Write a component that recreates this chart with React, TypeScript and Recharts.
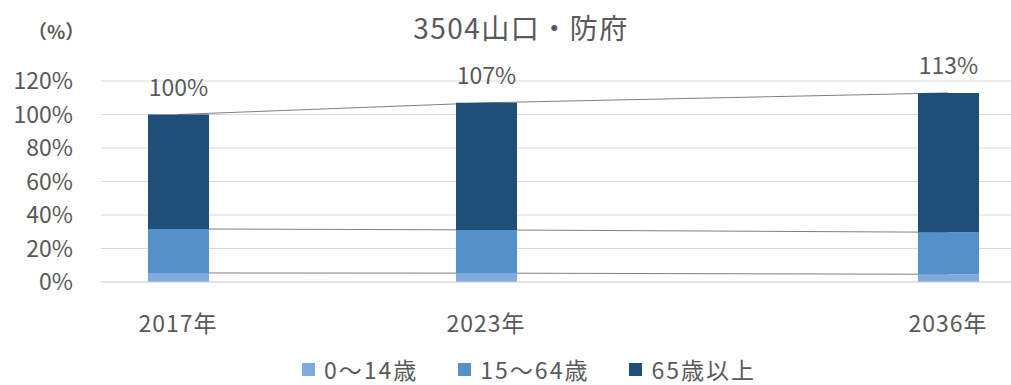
import {
  Bar,
  CartesianGrid,
  ComposedChart,
  LabelList,
  Legend,
  Line,
  XAxis,
  YAxis,
} from "recharts"

const categories = ["2017年", "", "2023年", "", "", "2036年"]
const age0to14 = [5.4, null, 5.3, null, null, 4.6]
const age15to64 = [26.3, null, 25.8, null, null, 25.1]
const age65plus = [68.3, null, 75.9, null, null, 83.2]
const yTicks = [0, 20, 40, 60, 80, 100, 120]

const seriesNames = ["0〜14歳", "15〜64歳", "65歳以上"]
const colors = ["#7eaadc", "#5591c9", "#1f4e79"]

const FONT = '"Noto Sans CJK JP", "Noto Sans", sans-serif'
const TEXT = "#595959"

const data = categories.map((name, i) => {
  const a = age0to14[i]
  const b = age15to64[i]
  const c = age65plus[i]
  const has = a != null && b != null && c != null
  return {
    name,
    a,
    b,
    c,
    lineA: has ? a : null,
    lineB: has ? a + b : null,
    lineC: has ? a + b + c : null,
    total: has ? a + b + c : null,
  }
})

function LegendContent({ payload }: any) {
  const items = (payload || []).filter((p: any) => seriesNames.includes(p.value))
  return (
    <div style={{ display: "flex", justifyContent: "center", fontFamily: FONT, fontSize: 23, letterSpacing: 2, color: TEXT, paddingLeft: 28, whiteSpace: "nowrap", lineHeight: "28px" }}>
      {items.map((p: any, i: number) => (
        <div key={i} style={{ display: "flex", alignItems: "center", marginRight: i < items.length - 1 ? 40 : 0 }}>
          <span style={{ width: 13, height: 13, background: p.color, display: "inline-block", marginRight: 9 }} />
          <span>{p.value}</span>
        </div>
      ))}
    </div>
  )
}

export default function App() {
  return (
    <div style={{ position: "absolute", left: 0, top: 0, width: 1011, height: 385, overflow: "hidden", background: "#fff" }}>
      <div style={{ position: "absolute", left: 0, width: 1042, top: 7, textAlign: "center", fontFamily: FONT, fontSize: 28, letterSpacing: 1.5, color: TEXT }}>
        3504山口・防府
      </div>
      <div style={{ position: "absolute", left: 28, top: 17, fontFamily: FONT, fontSize: 19, fontWeight: 700, color: TEXT }}>
        （%）
      </div>
      <ComposedChart
        width={1030}
        height={385}
        data={data}
        margin={{ top: 81, right: 5, left: 0, bottom: 25 }}
      >
        <CartesianGrid vertical={false} stroke="#d9d9d9" />
        <XAxis
          dataKey="name"
          axisLine={{ stroke: "#d9d9d9" }}
          tickLine={false}
          tickSize={0}
          tickMargin={34}
          height={50}
          interval={0}
          tick={{ fill: TEXT, fontSize: 23, fontFamily: FONT, letterSpacing: 1 }}
        />
        <YAxis
          type="number"
          domain={[0, 120]}
          ticks={yTicks}
          interval={0}
          tickFormatter={(v: number) => `${v}%`}
          axisLine={false}
          tickLine={false}
          tickSize={0}
          tickMargin={28}
          width={101}
          tick={{ fill: TEXT, fontSize: 23, fontFamily: FONT }}
        />
        <Legend
          verticalAlign="bottom"
          content={<LegendContent />}
          wrapperStyle={{ top: 355, left: 0, width: 1030 }}
        />
        <Line dataKey="lineA" stroke="#7f7f7f" strokeWidth={1} dot={false} connectNulls legendType="none" isAnimationActive={false} zIndex={50} />
        <Line dataKey="lineB" stroke="#7f7f7f" strokeWidth={1} dot={false} connectNulls legendType="none" isAnimationActive={false} zIndex={50} />
        <Line dataKey="lineC" stroke="#7f7f7f" strokeWidth={1} dot={false} connectNulls legendType="none" isAnimationActive={false} zIndex={50} />
        <Bar dataKey="a" name={seriesNames[0]} stackId="s" fill={colors[0]} barSize={61} isAnimationActive={false} />
        <Bar dataKey="b" name={seriesNames[1]} stackId="s" fill={colors[1]} barSize={61} isAnimationActive={false} />
        <Bar dataKey="c" name={seriesNames[2]} stackId="s" fill={colors[2]} barSize={61} isAnimationActive={false}>
          <LabelList
            dataKey="total"
            position="top"
            offset={19}
            formatter={(v: any) => (v == null ? "" : `${Math.round(v)}%`)}
            style={{ fill: TEXT, fontSize: 23, fontFamily: FONT }}
          />
        </Bar>
      </ComposedChart>
    </div>
  )
}
